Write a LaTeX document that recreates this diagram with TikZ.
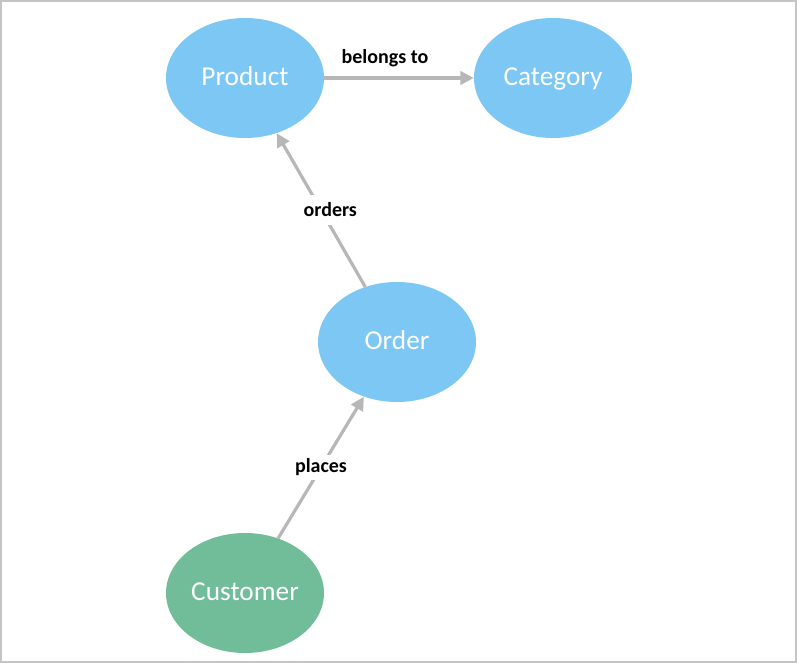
\documentclass[tikz,border=0pt]{standalone}
\usepackage{fontspec}
\setmainfont{Carlito}
\usetikzlibrary{arrows.meta,shapes.geometric}
\definecolor{entityblue}{RGB}{124,199,244}
\definecolor{entitygreen}{RGB}{113,189,154}
\definecolor{linkgray}{RGB}{183,183,183}
\definecolor{framegray}{RGB}{196,196,196}
\tikzset{
         entity/.style={ellipse,fill=entityblue,text=white,inner sep=0pt,text height=14pt,text depth=3pt,
                        minimum width=118.5pt,minimum height=90pt,font=\fontsize{20.5}{22}\selectfont},
         link/.style={draw=linkgray,line width=2.4pt,-{Triangle[length=10pt,width=10pt]}},
         linklabel/.style={fill=white,inner sep=3pt,font=\fontsize{15}{17}\selectfont\bfseries}
        }

\begin{document}
\begin{tikzpicture}[x=0.75pt,y=-0.75pt]
\draw[framegray,line width=1.5pt,fill=white](1,1) rectangle (796,662); % frame
\useasboundingbox (0,0) rectangle (797,663);
\node[entity] (product) at (245,78) {Product}; % Product
\node[entity] (category) at (553,78) {Category}; % Category
\node[entity] (order) at (397,342) {Order}; % Order
\node[entity,fill=entitygreen] (customer) at (245,593) {Customer}; % Customer
\draw[link] (product) -- (category); % belongs to
\node[linklabel,fill=none] (belongs) at (385,58) {belongs to}; % belongs to label
\draw[link] (order) -- node[linklabel,xshift=7pt,inner ysep=6pt] (orders) {orders} (product); % orders
\draw[link] (customer) -- node[linklabel] (places) {places} (order); % places
\end{tikzpicture}
\end{document}
